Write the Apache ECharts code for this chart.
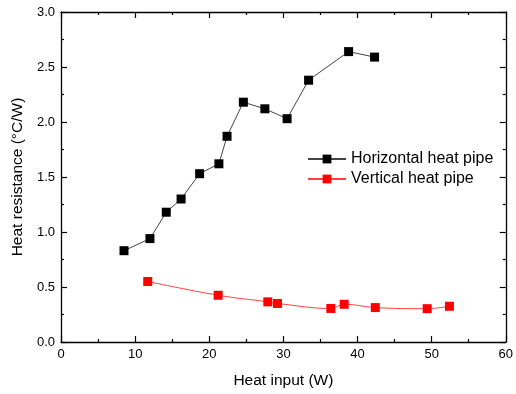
<!DOCTYPE html>
<html><head><meta charset="utf-8">
<script src="https://cdn.jsdelivr.net/npm/echarts@6/dist/echarts.min.js"></script>
<style>html,body{margin:0;padding:0;background:#fff}#c{width:516px;height:394px}</style>
</head><body><div id="c"></div>
<script>
const horizX = [8.5, 12.0, 14.2, 16.2, 18.7, 21.3, 22.4, 24.6, 27.5, 30.5, 33.4, 38.8, 42.3];
const horizY = [0.83, 0.94, 1.18, 1.30, 1.53, 1.62, 1.87, 2.18, 2.12, 2.03, 2.38, 2.64, 2.59];
const vertX = [11.7, 21.2, 27.9, 29.2, 36.4, 38.2, 42.4, 49.4, 52.4];
const vertY = [0.55, 0.425, 0.365, 0.35, 0.305, 0.343, 0.313, 0.303, 0.325];
const xName = 'Heat input (W)';
const yName = 'Heat resistance (\u00B0C/W)';
const seriesNames = ['Horizontal heat pipe', 'Vertical heat pipe'];

const font = 'Liberation Sans, Arial, sans-serif';
const chart = echarts.init(document.getElementById('c'));
const pair = (xs, ys) => xs.map((x, i) => [x, ys[i]]);
const axisLine = {show: true, onZero: false, lineStyle: {color: '#000', width: 1.3}};
const tick = {show: true, inside: true, length: 6, lineStyle: {color: '#000', width: 1.2}};
const minor = {show: true, splitNumber: 2, length: 3, lineStyle: {color: '#000', width: 1.2}};
chart.setOption({
  animation: false,
  grid: {left: 61, right: 7, top: 12, bottom: 52},
  legend: {
    orient: 'vertical', left: 307, top: 151, itemGap: 4, itemWidth: 38, itemHeight: 11, padding: 0,
    textStyle: {fontFamily: font, fontSize: 16, lineHeight: 16, color: '#000'},
    data: seriesNames
  },
  xAxis: [
    {type: 'value', min: 0, max: 60, interval: 10, name: xName, nameLocation: 'middle', nameGap: 31,
     nameTextStyle: {fontFamily: font, fontSize: 15.5, color: '#000'},
     axisLine, axisTick: tick, minorTick: minor, splitLine: {show: false},
     axisLabel: {fontFamily: font, fontSize: 13, color: '#000', margin: 6}},
    {type: 'value', position: 'top', min: 0, max: 60, interval: 10,
     axisLine, axisTick: tick, minorTick: minor, splitLine: {show: false}, axisLabel: {show: false}}
  ],
  yAxis: [
    {type: 'value', min: 0, max: 3, interval: 0.5, name: yName, nameLocation: 'middle', nameGap: 29,
     nameTextStyle: {fontFamily: font, fontSize: 15.5, color: '#000'},
     axisLine, axisTick: tick, minorTick: minor, splitLine: {show: false},
     axisLabel: {fontFamily: font, fontSize: 13, color: '#000', margin: 6, formatter: v => v.toFixed(1)}},
    {type: 'value', position: 'right', min: 0, max: 3, interval: 0.5,
     axisLine, axisTick: tick, minorTick: minor, splitLine: {show: false}, axisLabel: {show: false}}
  ],
  series: [
    {name: seriesNames[0], type: 'line', data: pair(horizX, horizY), symbol: 'rect', symbolSize: 9,
     itemStyle: {color: '#000'}, lineStyle: {color: '#444', width: 1}},
    {name: seriesNames[1], type: 'line', data: pair(vertX, vertY), symbol: 'rect', symbolSize: 9, smooth: 0.4,
     itemStyle: {color: '#ff0000'}, lineStyle: {color: '#ff4040', width: 1}}
  ]
});
</script></body></html>
